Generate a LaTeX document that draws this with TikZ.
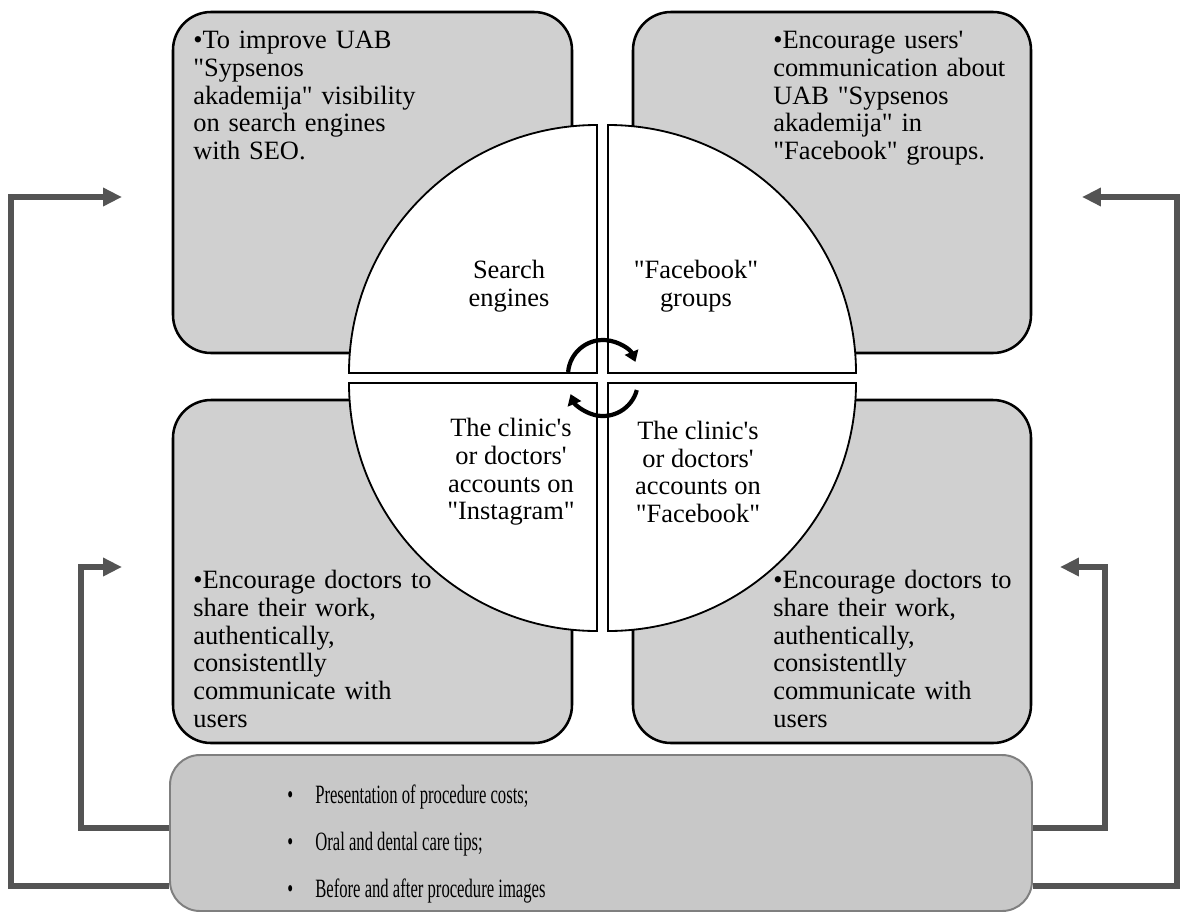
\documentclass[tikz,border=0pt]{standalone}
\usepackage{fontspec}
\setmainfont{Liberation Serif}[Ligatures=TeXOff]
\newfontfamily\tipfont{Liberation Serif}[FakeStretch=0.63,Ligatures=TeXOff]
\usepackage{tikz}
\usetikzlibrary{positioning,arrows.meta,fit}
\definecolor{goalgrey}{HTML}{D0D0D0}
\definecolor{tipgrey}{HTML}{C8C8C8}
\definecolor{tipedge}{HTML}{7F7F7F}
\definecolor{loopgrey}{HTML}{545454}
\newcommand{\qrad}{248}
\newcommand{\goal}[1]{\setbox0=\hbox{\textbullet}\noindent\hangindent=\wd0 \hangafter=1 \box0 #1}

\begin{document}
\begin{tikzpicture}[
    x=0.025cm, y=-0.025cm,
    every node/.style={font=\fontsize{18.8pt}{19.7pt}\selectfont, inner sep=0pt},
    goalbox/.style={draw=black, line width=1.8pt, rounded corners=0.95cm, fill=goalgrey},
    goaltext/.style={anchor=north west, align=left, text width=8cm},
    quad/.style={draw=black, line width=1.3pt, fill=white},
    chan/.style={align=center},
    turn/.style={line width=3pt, -{Triangle[length=7.5pt,width=10pt]}},
    tipbox/.style={draw=tipedge, line width=1.4pt, rounded corners=0.75cm, fill=tipgrey},
    tipitem/.style={anchor=base west, font=\tipfont\fontsize{18.8pt}{19.7pt}\selectfont},
    feedback/.style={draw=loopgrey, line width=3.9pt, -{Triangle[length=13.5pt,width=12.5pt]}}
  ]
  \useasboundingbox (0,0) rectangle (1184,915);

  % --- goal boxes, one per channel ----------------------------------------
  \node[goalbox, fit={(173,12) (572,353)}] (seo) {};
  \node[goalbox, fit={(633,12) (1031,353)}] (groups) {};
  \node[goalbox, fit={(173,400) (572,743)}] (insta) {};
  \node[goalbox, fit={(633,400) (1031,743)}] (fbook) {};

  % --- split circle of channels ------------------------------------------
  \draw[quad] (597,373) -- (349,373) arc (180:270:\qrad) -- cycle;
  \draw[quad] (608,373) -- (608,125) arc (270:360:\qrad) -- cycle;
  \draw[quad] (597,383) -- (597,631) arc (90:180:\qrad) -- cycle;
  \draw[quad] (608,383) -- (856,383) arc (0:90:\qrad) -- cycle;

  \node[chan] (engines)  at (509,286) {Search\\engines};
  \node[chan] (fbgroups) at (696,286) {"Facebook"\\groups};
  \node[chan] (igacc)    at (511,472) {The clinic's\\or doctors'\\accounts on\\"Instagram"};
  \node[chan] (fbacc)    at (698,472) {The clinic's\\or doctors'\\accounts on\\"Facebook"};

  % --- goals ---------------------------------------------------------------
  \node[goaltext] (seoTxt) at (193,31)
    {\goal{To improve UAB\newline "Sypsenos\newline akademija" visibility\newline on search engines\newline with SEO.}};
  \node[goaltext] (groupsTxt) at (773,31)
    {\goal{Encourage users'\newline communication about\newline UAB "Sypsenos\newline akademija" in\newline "Facebook" groups.}};
  \node[goaltext] (instaTxt) at (193,570)
    {\goal{Encourage doctors to\newline share their work,\newline authentically,\newline consistentlly\newline communicate with\newline users}};
  \node[goaltext] (fbookTxt) at (773,570)
    {\goal{Encourage doctors to\newline share their work,\newline authentically,\newline consistentlly\newline communicate with\newline users}};

  % --- cycle arrows in the middle ------------------------------------------
  \draw[turn] (603,375) ++(185:35) arc (185:338:35);
  \draw[turn] (603,381) ++(15:35) arc (15:158:35);

  % --- content box and feedback loops --------------------------------------
  \node[tipbox, fit={(170,755) (1032,911)}] (tips) {};
  \foreach \t [count=\i] in {Presentation of procedure costs;, Oral and dental care tips;, Before and after procedure images}
    {\node[tipitem] (dot\i) at (287, 756+47*\i) {\textbullet};
     \node[tipitem] (tip\i) at (315, 756+47*\i) {\t};}

  \coordinate (seoIn) at (122,197);
  \coordinate (igIn)  at (122,567);
  \coordinate (fbIn)  at (1060,567);
  \coordinate (grpIn) at (1082,197);
  \draw[feedback] (tips.west |- 0,886) -| (11,197) -- (seoIn);
  \draw[feedback] (tips.west |- 0,828) -| (81,567) -- (igIn);
  \draw[feedback] (tips.east |- 0,828) -| (1105,567) -- (fbIn);
  \draw[feedback] (tips.east |- 0,886) -| (1177,197) -- (grpIn);

\end{tikzpicture}
\end{document}
